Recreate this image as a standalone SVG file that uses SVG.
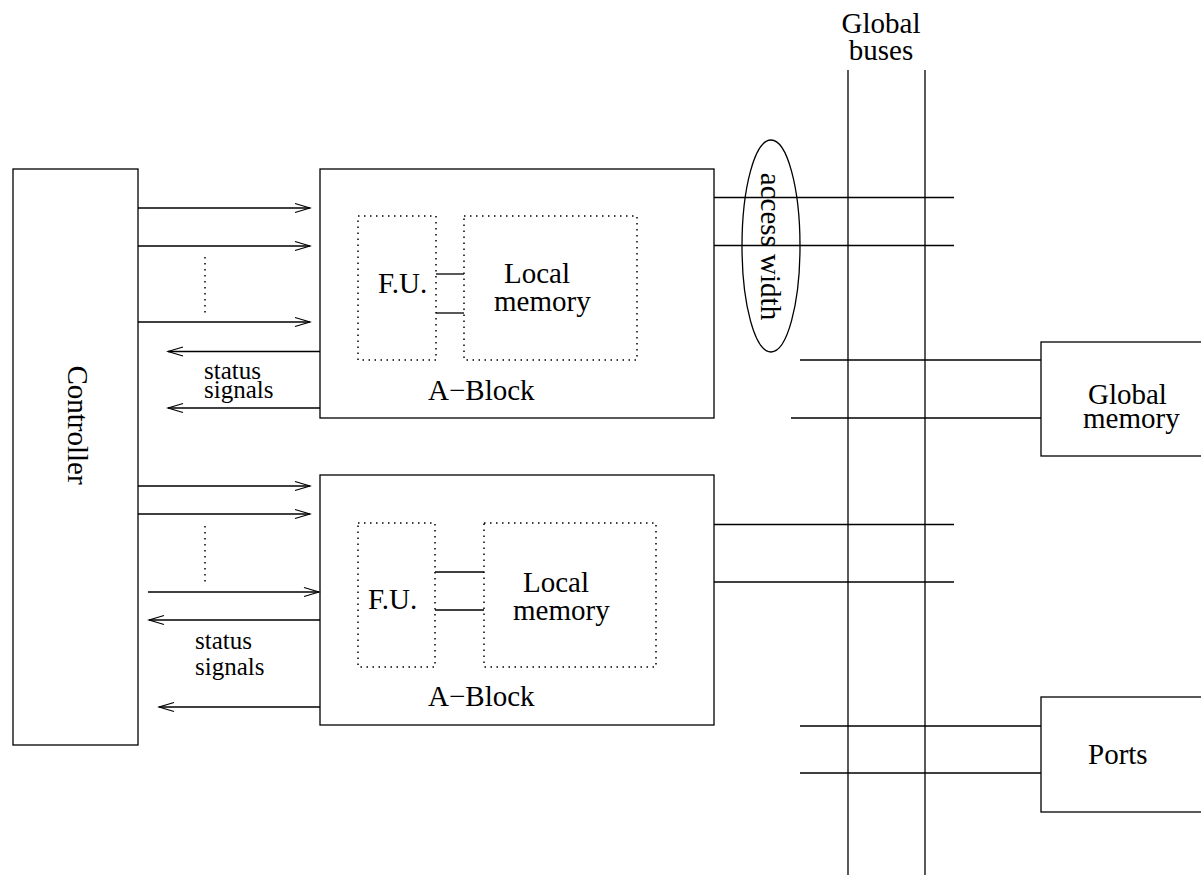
<svg xmlns="http://www.w3.org/2000/svg" width="1201" height="875" viewBox="0 0 1201 875">
<style>
.box{fill:none;stroke:#000;stroke-width:1.3}
.dot{fill:none;stroke:#000;stroke-width:1.5;stroke-dasharray:1.5 4.5}
.ln{fill:none;stroke:#000;stroke-width:1.3}
.arr{fill:none;stroke:#000;stroke-width:1.3;marker-end:url(#ah)}
.t{font-family:"Liberation Serif","Times New Roman",serif;font-size:29px;fill:#000}
.s{font-family:"Liberation Serif","Times New Roman",serif;font-size:25px;fill:#000}
</style>
<defs>
<marker id="ah" markerUnits="userSpaceOnUse" markerWidth="18" markerHeight="12" refX="16" refY="6" orient="auto">
<path d="M1,1.5 L16,6 L1,10.5" fill="none" stroke="#000" stroke-width="1.2"/>
</marker>
</defs>
<rect width="1201" height="875" fill="#fff"/>

<g id="controller">
<rect class="box" x="13" y="169" width="125" height="576"/>
<text class="t" transform="translate(68,425) rotate(90)" text-anchor="middle">Controller</text>
</g>

<g id="ablock1">
<rect class="box" x="320" y="169" width="394" height="249"/>
<text class="t" x="428" y="400">A−Block</text>
</g>
<g id="fu1">
<rect class="dot" x="358" y="216" width="78" height="144"/>
<text class="t" x="378" y="293">F.U.</text>
</g>
<g id="localmem1">
<rect class="dot" x="464" y="216" width="173" height="144"/>
<text class="t" x="504" y="283">Local</text>
<text class="t" x="494" y="311">memory</text>
</g>

<g id="ablock2">
<rect class="box" x="320" y="475" width="394" height="250"/>
<text class="t" x="428" y="706">A−Block</text>
</g>
<g id="fu2">
<rect class="dot" x="358" y="523" width="77" height="144"/>
<text class="t" x="368" y="609">F.U.</text>
</g>
<g id="localmem2">
<rect class="dot" x="484" y="523" width="172" height="144"/>
<text class="t" x="523" y="592">Local</text>
<text class="t" x="513" y="620">memory</text>
</g>

<g id="globalmem">
<rect class="box" x="1041" y="342" width="170" height="114"/>
<text class="t" x="1088" y="404">Global</text>
<text class="t" x="1083" y="428">memory</text>
</g>

<g id="ports">
<rect class="box" x="1041" y="697" width="170" height="115"/>
<text class="t" x="1088" y="764">Ports</text>
</g>

<g id="buses">
<text class="t" x="881" y="33" text-anchor="middle">Global</text>
<text class="t" x="881" y="60" text-anchor="middle">buses</text>
<line class="ln" x1="848" y1="70" x2="848" y2="875"/>
<line class="ln" x1="925" y1="70" x2="925" y2="875"/>
</g>

<g id="accesswidth">
<ellipse class="box" cx="771" cy="246" rx="29" ry="106"/>
<text class="t" transform="translate(761,246.5) rotate(90)" text-anchor="middle">access width</text>
</g>

<g id="labels">
<text class="s" x="204" y="379">status</text>
<text class="s" x="204" y="398">signals</text>
<text class="s" x="195" y="649">status</text>
<text class="s" x="195" y="675">signals</text>
</g>

<g id="connectors">
<line class="arr" x1="138" y1="208" x2="310" y2="208"/>
<line class="arr" x1="138" y1="246" x2="310" y2="246"/>
<line class="arr" x1="138" y1="322" x2="310" y2="322"/>
<line class="dot" x1="205" y1="257" x2="205" y2="313"/>
<line class="arr" x1="320" y1="351.5" x2="168" y2="351.5"/>
<line class="arr" x1="320" y1="408" x2="168" y2="408"/>

<line class="arr" x1="138" y1="486" x2="310" y2="486"/>
<line class="arr" x1="138" y1="514" x2="310" y2="514"/>
<line class="arr" x1="148" y1="592" x2="319" y2="592"/>
<line class="dot" x1="205" y1="526" x2="205" y2="582"/>
<line class="arr" x1="320" y1="620" x2="149" y2="620"/>
<line class="arr" x1="320" y1="707" x2="159" y2="707"/>

<line class="ln" x1="436" y1="274" x2="464" y2="274"/>
<line class="ln" x1="436" y1="313" x2="464" y2="313"/>
<line class="ln" x1="435" y1="572" x2="484" y2="572"/>
<line class="ln" x1="435" y1="610" x2="484" y2="610"/>

<line class="ln" x1="714" y1="197.5" x2="954" y2="197.5"/>
<line class="ln" x1="714" y1="245.5" x2="954" y2="245.5"/>
<line class="ln" x1="714" y1="524.5" x2="954" y2="524.5"/>
<line class="ln" x1="714" y1="582" x2="954" y2="582"/>

<line class="ln" x1="800" y1="360" x2="1041" y2="360"/>
<line class="ln" x1="791" y1="418" x2="1041" y2="418"/>
<line class="ln" x1="800" y1="726" x2="1041" y2="726"/>
<line class="ln" x1="800" y1="773" x2="1041" y2="773"/>
</g>
</svg>
